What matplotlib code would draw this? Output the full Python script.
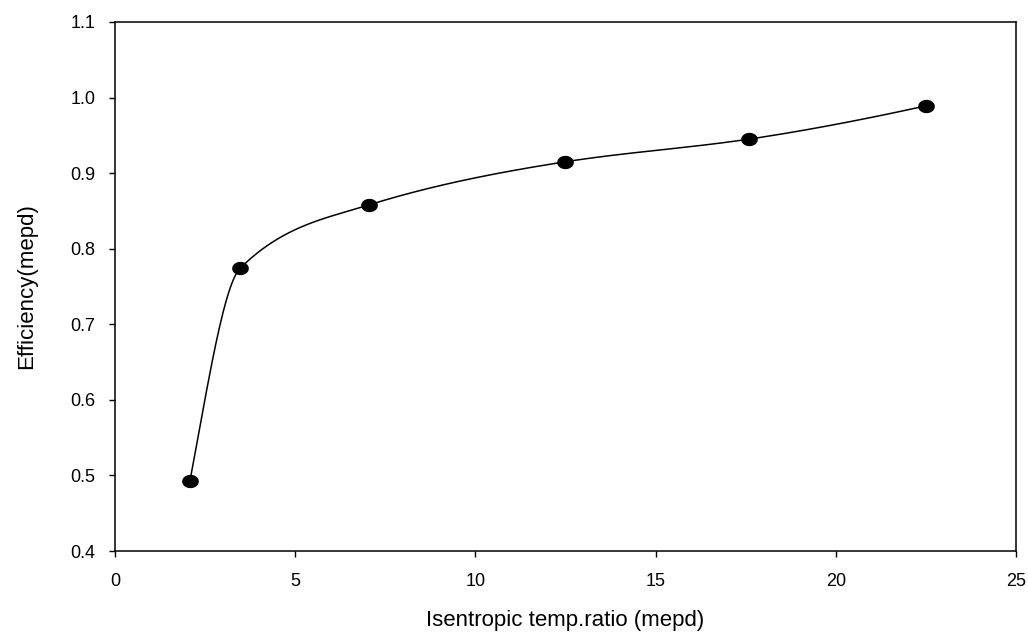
import numpy as np
import matplotlib
matplotlib.use("Agg")
import matplotlib.pyplot as plt
from matplotlib.path import Path

plt.rcParams['font.family'] = ['Liberation Sans', 'DejaVu Sans']

# data
temp_ratio = [2.08, 3.47, 7.05, 12.49, 17.59, 22.50]
efficiency = [0.493, 0.774, 0.858, 0.915, 0.945, 0.989]
x_ticks = [0, 5, 10, 15, 20, 25]
y_ticks = [0.4, 0.5, 0.6, 0.7, 0.8, 0.9, 1.0, 1.1]


def pchip(x, y, xs):
    # monotone cubic (Fritsch-Carlson) for the smooth connecting line
    x = np.asarray(x, float)
    y = np.asarray(y, float)
    h = np.diff(x)
    d = np.diff(y) / h
    m = np.zeros_like(y)
    for k in range(1, len(x) - 1):
        if d[k - 1] * d[k] > 0:
            w1 = 2 * h[k] + h[k - 1]
            w2 = h[k] + 2 * h[k - 1]
            m[k] = (w1 + w2) / (w1 / d[k - 1] + w2 / d[k])
    m[0] = ((2 * h[0] + h[1]) * d[0] - h[0] * d[1]) / (h[0] + h[1])
    if np.sign(m[0]) != np.sign(d[0]):
        m[0] = 0
    m[-1] = ((2 * h[-1] + h[-2]) * d[-1] - h[-1] * d[-2]) / (h[-1] + h[-2])
    if np.sign(m[-1]) != np.sign(d[-1]):
        m[-1] = 0
    idx = np.clip(np.searchsorted(x, xs) - 1, 0, len(x) - 2)
    t = (xs - x[idx]) / h[idx]
    h00 = 2 * t**3 - 3 * t**2 + 1
    h10 = t**3 - 2 * t**2 + t
    h01 = -2 * t**3 + 3 * t**2
    h11 = t**3 - t**2
    return (h00 * y[idx] + h10 * h[idx] * m[idx]
            + h01 * y[idx + 1] + h11 * h[idx] * m[idx + 1])


fig = plt.figure(figsize=(10.28, 6.39), dpi=100)
ax = fig.add_axes([115 / 1028, 1 - 551 / 639, (1016 - 115) / 1028, (551 - 22) / 639])

xs = np.linspace(temp_ratio[0], temp_ratio[-1], 400)
ax.plot(xs, pchip(temp_ratio, efficiency, xs), color='black', lw=1.1)

# slightly flattened dot, like the original markers
th = np.linspace(0, 2 * np.pi, 40)
ellipse = Path(np.column_stack([np.cos(th), 0.78 * np.sin(th)]))
ax.plot(temp_ratio, efficiency, linestyle='none', marker=ellipse,
        color='black', markersize=11)

ax.set_xlim(0, 25)
ax.set_ylim(0.4, 1.1)
ax.set_xticks(x_ticks)
ax.set_yticks(y_ticks)
ax.set_yticklabels([f"{v:.1f}" for v in y_ticks])
ax.tick_params(direction='out', length=4, width=1, labelsize=13)
ax.tick_params(axis='x', pad=12)
ax.tick_params(axis='y', pad=10)
for s in ax.spines.values():
    s.set_linewidth(1.1)

ax.set_xlabel("Isentropic temp.ratio (mepd)", fontsize=16, labelpad=14)
ax.set_ylabel("Efficiency(mepd)", fontsize=16, labelpad=24)

fig.savefig("out.png", dpi=100)
